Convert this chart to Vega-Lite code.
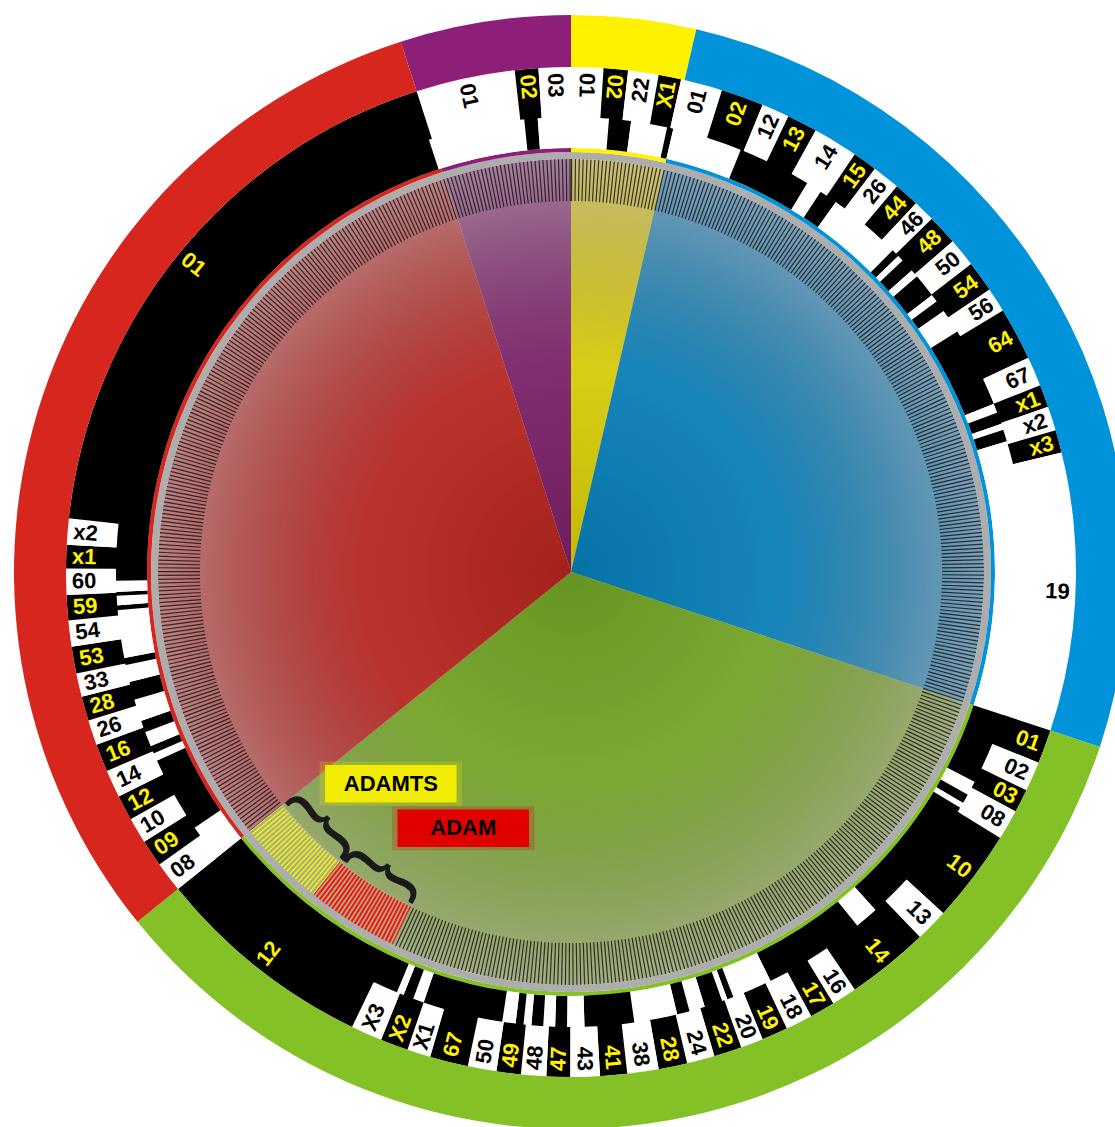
{
  "$schema": "https://vega.github.io/schema/vega-lite/v6.json",
  "width": 1088,
  "height": 1110,
  "autosize": "none",
  "padding": {"left": 27, "top": 17, "right": 0, "bottom": 0},
  "background": "white",
  "config": {"view": {"stroke": null}},
  "datasets": {
    "families": [
      {"fam": "violet", "a0": 342.2, "a1": 360},
      {"fam": "gold", "a0": 0, "a1": 13},
      {"fam": "blue", "a0": 13, "a1": 108.3},
      {"fam": "green", "a0": 108.3, "a1": 231.1},
      {"fam": "red", "a0": 231.1, "a1": 342.2}
    ],
    "full": [{"a0": 0, "a1": 360}],
    "groups": [
      {"kind": "ADAMTS", "t0": 218.6, "t1": 231.1, "at": 220.4},
      {"kind": "ADAM", "t0": 205.6, "t1": 218.6, "at": 202.8}
    ],
    "subfamilies": [
      {"fam": "violet", "sub": "01", "a0": 341.8, "a1": 354.1, "b0": 342.2, "b1": 353.6, "shade": "light"},
      {"fam": "violet", "sub": "02", "a0": 354.1, "a1": 355.8, "b0": 353.6, "b1": 356.3, "shade": "dark"},
      {"fam": "violet", "sub": "03", "a0": 355.8, "a1": 360, "b0": 356.3, "b1": 360, "shade": "light"},
      {"fam": "gold", "sub": "01", "a0": 0, "a1": 4.8, "b0": 0, "b1": 3.7, "shade": "light"},
      {"fam": "gold", "sub": "02", "a0": 4.8, "a1": 7.6, "b0": 3.7, "b1": 6.5, "shade": "dark"},
      {"fam": "gold", "sub": "22", "a0": 7.6, "a1": 12.2, "b0": 6.5, "b1": 10.0, "shade": "light"},
      {"fam": "gold", "sub": "X1", "a0": 12.2, "a1": 13.0, "b0": 10.0, "b1": 12.6, "shade": "dark"},
      {"fam": "blue", "sub": "01", "a0": 13.0, "a1": 21.9, "b0": 12.6, "b1": 17.4, "shade": "light"},
      {"fam": "blue", "sub": "02", "a0": 21.9, "a1": 31.3, "b0": 17.4, "b1": 22.3, "shade": "dark"},
      {"fam": "blue", "sub": "12", "a0": 31.3, "a1": 33.3, "b0": 22.3, "b1": 25.5, "shade": "light"},
      {"fam": "blue", "sub": "13", "a0": 33.3, "a1": 35.6, "b0": 25.5, "b1": 29.0, "shade": "dark"},
      {"fam": "blue", "sub": "14", "a0": 35.6, "a1": 45.0, "b0": 29.0, "b1": 34.2, "shade": "light"},
      {"fam": "blue", "sub": "15", "a0": 45.0, "a1": 46.0, "b0": 34.2, "b1": 37.0, "shade": "dark"},
      {"fam": "blue", "sub": "26", "a0": 46.0, "a1": 46.8, "b0": 37.0, "b1": 40.2, "shade": "light"},
      {"fam": "blue", "sub": "44", "a0": 46.8, "a1": 48.5, "b0": 40.2, "b1": 43.1, "shade": "dark"},
      {"fam": "blue", "sub": "46", "a0": 48.5, "a1": 49.5, "b0": 43.1, "b1": 45.6, "shade": "light"},
      {"fam": "blue", "sub": "48", "a0": 49.5, "a1": 52.5, "b0": 45.6, "b1": 49.1, "shade": "dark"},
      {"fam": "blue", "sub": "50", "a0": 52.5, "a1": 53.5, "b0": 49.1, "b1": 52.4, "shade": "light"},
      {"fam": "blue", "sub": "54", "a0": 53.5, "a1": 55.0, "b0": 52.4, "b1": 56.0, "shade": "dark"},
      {"fam": "blue", "sub": "56", "a0": 55.0, "a1": 58.1, "b0": 56.0, "b1": 58.8, "shade": "light"},
      {"fam": "blue", "sub": "64", "a0": 58.1, "a1": 68.3, "b0": 58.8, "b1": 64.9, "shade": "dark"},
      {"fam": "blue", "sub": "67", "a0": 68.3, "a1": 69.5, "b0": 64.9, "b1": 68.3, "shade": "light"},
      {"fam": "blue", "sub": "x1", "a0": 69.5, "a1": 71.0, "b0": 68.3, "b1": 70.9, "shade": "dark"},
      {"fam": "blue", "sub": "x2", "a0": 71.0, "a1": 71.8, "b0": 70.9, "b1": 73.7, "shade": "light"},
      {"fam": "blue", "sub": "x3", "a0": 71.8, "a1": 73.3, "b0": 73.7, "b1": 76.3, "shade": "dark"},
      {"fam": "blue", "sub": "19", "a0": 73.3, "a1": 108.3, "b0": 76.3, "b1": 108.3, "shade": "light"},
      {"fam": "green", "sub": "01", "a0": 108.3, "a1": 117.5, "b0": 108.3, "b1": 112.2, "shade": "dark"},
      {"fam": "green", "sub": "02", "a0": 117.5, "a1": 119.3, "b0": 112.2, "b1": 115.6, "shade": "light"},
      {"fam": "green", "sub": "03", "a0": 119.3, "a1": 120.5, "b0": 115.6, "b1": 118.3, "shade": "dark"},
      {"fam": "green", "sub": "08", "a0": 120.5, "a1": 121.2, "b0": 118.3, "b1": 121.8, "shade": "light"},
      {"fam": "green", "sub": "10", "a0": 121.2, "a1": 138.0, "b0": 121.8, "b1": 132.5, "shade": "dark"},
      {"fam": "green", "sub": "13", "a0": 138.0, "a1": 141.0, "b0": 132.5, "b1": 136.3, "shade": "light"},
      {"fam": "green", "sub": "14", "a0": 141.0, "a1": 154.0, "b0": 136.3, "b1": 145.8, "shade": "dark"},
      {"fam": "green", "sub": "16", "a0": 154.0, "a1": 159.1, "b0": 145.8, "b1": 148.7, "shade": "light"},
      {"fam": "green", "sub": "17", "a0": 159.1, "a1": 159.9, "b0": 148.7, "b1": 151.6, "shade": "dark"},
      {"fam": "green", "sub": "18", "a0": 159.9, "a1": 160.6, "b0": 151.6, "b1": 154.7, "shade": "light"},
      {"fam": "green", "sub": "19", "a0": 160.6, "a1": 162.9, "b0": 154.7, "b1": 157.7, "shade": "dark"},
      {"fam": "green", "sub": "20", "a0": 162.9, "a1": 164.9, "b0": 157.7, "b1": 160.3, "shade": "light"},
      {"fam": "green", "sub": "22", "a0": 164.9, "a1": 166.5, "b0": 160.3, "b1": 163.5, "shade": "dark"},
      {"fam": "green", "sub": "24", "a0": 166.5, "a1": 172.0, "b0": 163.5, "b1": 166.7, "shade": "light"},
      {"fam": "green", "sub": "28", "a0": 172.0, "a1": 178.3, "b0": 166.7, "b1": 170.0, "shade": "dark"},
      {"fam": "green", "sub": "38", "a0": 178.3, "a1": 180.5, "b0": 170.0, "b1": 173.6, "shade": "light"},
      {"fam": "green", "sub": "41", "a0": 180.5, "a1": 182.0, "b0": 173.6, "b1": 176.7, "shade": "dark"},
      {"fam": "green", "sub": "43", "a0": 182.0, "a1": 183.5, "b0": 176.7, "b1": 180.1, "shade": "light"},
      {"fam": "green", "sub": "47", "a0": 183.5, "a1": 185.0, "b0": 180.1, "b1": 182.8, "shade": "dark"},
      {"fam": "green", "sub": "48", "a0": 185.0, "a1": 186.0, "b0": 182.8, "b1": 185.7, "shade": "light"},
      {"fam": "green", "sub": "49", "a0": 186.0, "a1": 187.0, "b0": 185.7, "b1": 188.5, "shade": "dark"},
      {"fam": "green", "sub": "50", "a0": 187.0, "a1": 188.7, "b0": 188.5, "b1": 191.8, "shade": "light"},
      {"fam": "green", "sub": "67", "a0": 188.7, "a1": 198.9, "b0": 191.8, "b1": 196.2, "shade": "dark"},
      {"fam": "green", "sub": "X1", "a0": 198.9, "a1": 200.3, "b0": 196.2, "b1": 198.9, "shade": "light"},
      {"fam": "green", "sub": "X2", "a0": 200.3, "a1": 201.6, "b0": 198.9, "b1": 202.1, "shade": "dark"},
      {"fam": "green", "sub": "X3", "a0": 201.6, "a1": 202.5, "b0": 202.1, "b1": 205.7, "shade": "light"},
      {"fam": "green", "sub": "12", "a0": 202.5, "a1": 231.1, "b0": 205.7, "b1": 231.1, "shade": "dark"},
      {"fam": "red", "sub": "08", "a0": 231.1, "a1": 235.8, "b0": 231.1, "b1": 234.6, "shade": "light"},
      {"fam": "red", "sub": "09", "a0": 235.8, "a1": 245.5, "b0": 234.6, "b1": 237.7, "shade": "dark"},
      {"fam": "red", "sub": "10", "a0": 245.5, "a1": 246.5, "b0": 237.7, "b1": 240.7, "shade": "light"},
      {"fam": "red", "sub": "12", "a0": 246.5, "a1": 247.5, "b0": 240.7, "b1": 243.6, "shade": "dark"},
      {"fam": "red", "sub": "14", "a0": 247.5, "a1": 249.4, "b0": 243.6, "b1": 246.8, "shade": "light"},
      {"fam": "red", "sub": "16", "a0": 249.4, "a1": 250.9, "b0": 246.8, "b1": 250.0, "shade": "dark"},
      {"fam": "red", "sub": "26", "a0": 250.9, "a1": 253.7, "b0": 250.0, "b1": 252.9, "shade": "light"},
      {"fam": "red", "sub": "28", "a0": 253.7, "a1": 256.0, "b0": 252.9, "b1": 255.7, "shade": "dark"},
      {"fam": "red", "sub": "33", "a0": 256.0, "a1": 258.2, "b0": 255.7, "b1": 258.4, "shade": "light"},
      {"fam": "red", "sub": "53", "a0": 258.2, "a1": 259.1, "b0": 258.4, "b1": 261.5, "shade": "dark"},
      {"fam": "red", "sub": "54", "a0": 259.1, "a1": 265.2, "b0": 261.5, "b1": 264.5, "shade": "light"},
      {"fam": "red", "sub": "59", "a0": 265.2, "a1": 265.8, "b0": 264.5, "b1": 267.4, "shade": "dark"},
      {"fam": "red", "sub": "60", "a0": 265.8, "a1": 267.0, "b0": 267.4, "b1": 270.4, "shade": "light"},
      {"fam": "red", "sub": "x1", "a0": 267.0, "a1": 267.5, "b0": 270.4, "b1": 273.1, "shade": "dark"},
      {"fam": "red", "sub": "x2", "a0": 267.5, "a1": 268.9, "b0": 273.1, "b1": 276.1, "shade": "light"},
      {"fam": "red", "sub": "01", "a0": 268.9, "a1": 341.8, "b0": 276.1, "b1": 342.2, "shade": "dark"}
    ]
  },
  "layer": [
    {
      "description": "central pie of the five families",
      "data": {"name": "families"},
      "mark": {"type": "arc", "innerRadius": 0, "outerRadius": 413},
      "encoding": {
        "theta": {"field": "a0", "type": "quantitative", "stack": null, "scale": {"type": "linear", "domain": [0, 360], "range": [0, 6.283185307179586]}},
        "theta2": {"field": "a1"},
        "color": {"field": "fam", "type": "nominal", "legend": null, "scale": {"domain": ["violet", "gold", "blue", "green", "red"], "range": ["#8E1F78", "#FFF200", "#0093D9", "#84C126", "#D7261E"]}}
      }
    },
    {
      "description": "shading over the pie: darker centre, greyed rim",
      "data": {"name": "full"},
      "mark": {
        "type": "arc", "innerRadius": 0, "outerRadius": 413,
        "fill": {"gradient": "radial", "x1": 0.5, "y1": 0.5, "r1": 0, "x2": 0.5, "y2": 0.5, "r2": 0.5,
          "stops": [
            {"offset": 0, "color": "rgba(20,20,20,0.26)"},
            {"offset": 0.5, "color": "rgba(95,90,92,0.24)"},
            {"offset": 1, "color": "rgba(178,168,172,0.70)"}
          ]}
      },
      "encoding": {
        "theta": {"field": "a0", "type": "quantitative", "stack": null, "scale": {"type": "linear", "domain": [0, 360], "range": [0, 6.283185307179586]}},
        "theta2": {"field": "a1"}
      }
    },
    {
      "description": "one tick per gene around the pie",
      "data": {"name": "full"},
      "mark": {"type": "arc", "innerRadius": 0, "outerRadius": 392, "filled": false, "stroke": "#111111", "strokeOpacity": 0.8, "strokeWidth": 42, "strokeDash": [1.2, 2.5]},
      "encoding": {
        "theta": {"field": "a0", "type": "quantitative", "stack": null, "scale": {"type": "linear", "domain": [0, 360], "range": [0, 6.283185307179586]}},
        "theta2": {"field": "a1"}
      }
    },
    {
      "data": {"name": "groups"},
      "mark": {"type": "arc", "innerRadius": 370, "outerRadius": 414, "fill": "#A3B08A"},
      "encoding": {
        "theta": {"field": "t0", "type": "quantitative", "stack": null, "scale": {"type": "linear", "domain": [0, 360], "range": [0, 6.283185307179586]}},
        "theta2": {"field": "t1"}
      }
    },
    {
      "description": "ADAMTS and ADAM genes ticked in their own colour",
      "data": {"name": "groups"},
      "mark": {"type": "arc", "innerRadius": 392, "outerRadius": 392, "filled": false, "strokeWidth": 42, "strokeDash": [1.1, 2.6]},
      "encoding": {
        "theta": {"field": "t0", "type": "quantitative", "stack": null, "scale": {"type": "linear", "domain": [0, 360], "range": [0, 6.283185307179586]}},
        "theta2": {"field": "t1"},
        "color": {"field": "kind", "type": "nominal", "legend": null, "scale": {"domain": ["ADAMTS", "ADAM"], "range": ["#FFF200", "#FF1010"]}}
      }
    },
    {
      "data": {"name": "full"},
      "mark": {"type": "arc", "innerRadius": 413, "outerRadius": 420, "fill": "#ADADAD"},
      "encoding": {
        "theta": {"field": "a0", "type": "quantitative", "stack": null, "scale": {"type": "linear", "domain": [0, 360], "range": [0, 6.283185307179586]}},
        "theta2": {"field": "a1"}
      }
    },
    {
      "data": {"name": "families"},
      "mark": {"type": "arc", "innerRadius": 420, "outerRadius": 424},
      "encoding": {
        "theta": {"field": "a0", "type": "quantitative", "stack": null, "scale": {"type": "linear", "domain": [0, 360], "range": [0, 6.283185307179586]}},
        "theta2": {"field": "a1"},
        "color": {"field": "fam", "type": "nominal", "legend": null, "scale": {"domain": ["violet", "gold", "blue", "green", "red"], "range": ["#8E1F78", "#FFF200", "#0093D9", "#84C126", "#D7261E"]}}
      }
    },
    {
      "description": "subfamily ring, inner part at the true gene positions",
      "data": {"name": "subfamilies"},
      "mark": {"type": "arc", "innerRadius": 424, "outerRadius": 456},
      "encoding": {
        "theta": {"field": "a0", "type": "quantitative", "stack": null, "scale": {"type": "linear", "domain": [0, 360], "range": [0, 6.283185307179586]}},
        "theta2": {"field": "a1"},
        "color": {"field": "shade", "type": "nominal", "legend": null, "scale": {"domain": ["dark", "light"], "range": ["#000000", "#FFFFFF"]}}
      }
    },
    {
      "description": "subfamily ring, outer part spread out for the labels",
      "data": {"name": "subfamilies"},
      "mark": {"type": "arc", "innerRadius": 455, "outerRadius": 505},
      "encoding": {
        "theta": {"field": "b0", "type": "quantitative", "stack": null, "scale": {"type": "linear", "domain": [0, 360], "range": [0, 6.283185307179586]}},
        "theta2": {"field": "b1"},
        "color": {"field": "shade", "type": "nominal", "legend": null, "scale": {"domain": ["dark", "light"], "range": ["#000000", "#FFFFFF"]}}
      }
    },
    {
      "description": "outer family ring",
      "data": {"name": "families"},
      "mark": {"type": "arc", "innerRadius": 505, "outerRadius": 557},
      "encoding": {
        "theta": {"field": "a0", "type": "quantitative", "stack": null, "scale": {"type": "linear", "domain": [0, 360], "range": [0, 6.283185307179586]}},
        "theta2": {"field": "a1"},
        "color": {"field": "fam", "type": "nominal", "legend": null, "scale": {"domain": ["violet", "gold", "blue", "green", "red"], "range": ["#8E1F78", "#FFF200", "#0093D9", "#84C126", "#D7261E"]}}
      }
    },
    {
      "description": "subfamily labels, radial, flipped on the left half",
      "data": {"name": "subfamilies"},
      "transform": [
        {"calculate": "(datum.b0 + datum.b1) / 2", "as": "mid"},
        {"calculate": "(datum.mid < 8 || datum.mid >= 180) ? datum.mid - 270 : datum.mid - 90", "as": "rot"}
      ],
      "mark": {"type": "text", "radius": 487, "align": "center", "baseline": "middle", "font": "Liberation Sans", "fontWeight": "bold", "fontSize": 22},
      "encoding": {
        "theta": {"field": "mid", "type": "quantitative", "scale": {"type": "linear", "domain": [0, 360], "range": [0, 6.283185307179586]}},
        "text": {"field": "sub"},
        "angle": {"field": "rot", "type": "quantitative", "scale": null},
        "color": {"field": "shade", "type": "nominal", "legend": null, "scale": {"domain": ["dark", "light"], "range": ["#FFF200", "#000000"]}}
      }
    },
    {
      "description": "curly braces grouping the ADAMTS and ADAM ticks",
      "data": {"name": "groups"},
      "transform": [
        {"calculate": "(datum.t0 + datum.t1) / 2", "as": "mid"},
        {"calculate": "datum.mid - 90", "as": "rot"}
      ],
      "mark": {"type": "text", "text": "{", "radius": 355, "align": "center", "baseline": "middle", "font": "Lato", "fontWeight": 400, "fontSize": 90, "fill": "#1A1A1A"},
      "encoding": {
        "theta": {"field": "mid", "type": "quantitative", "scale": {"type": "linear", "domain": [0, 360], "range": [0, 6.283185307179586]}},
        "angle": {"field": "rot", "type": "quantitative", "scale": null}
      }
    },
    {
      "description": "label boxes, soft halo then solid box, placed at the label angle",
      "data": {"name": "groups"},
      "transform": [
        {"calculate": "278 * sin(datum.at * PI / 180)", "as": "bx"},
        {"calculate": "278 * cos(datum.at * PI / 180)", "as": "by"}
      ],
      "layer": [
        {
          "mark": {"type": "point", "filled": true, "opacity": 0.22, "shape": "M-1,-0.31L1,-0.31L1,0.31L-1,0.31Z", "size": 20300},
          "encoding": {
            "x": {"field": "bx", "type": "quantitative", "axis": null, "scale": {"domain": [-544, 544], "nice": false, "zero": false}},
            "y": {"field": "by", "type": "quantitative", "axis": null, "scale": {"domain": [-555, 555], "nice": false, "zero": false}},
            "color": {"field": "kind", "type": "nominal", "legend": null, "scale": {"domain": ["ADAMTS", "ADAM"], "range": ["#F2EC00", "#E00000"]}}
          }
        },
        {
          "mark": {"type": "point", "filled": true, "opacity": 1, "shape": "M-1,-0.2857L1,-0.2857L1,0.2857L-1,0.2857Z", "size": 17300},
          "encoding": {
            "x": {"field": "bx", "type": "quantitative", "axis": null, "scale": {"domain": [-544, 544], "nice": false, "zero": false}},
            "y": {"field": "by", "type": "quantitative", "axis": null, "scale": {"domain": [-555, 555], "nice": false, "zero": false}},
            "color": {"field": "kind", "type": "nominal", "legend": null, "scale": {"domain": ["ADAMTS", "ADAM"], "range": ["#F2EC00", "#E00000"]}}
          }
        }
      ]
    },
    {
      "data": {"name": "groups"},
      "mark": {"type": "text", "radius": 278, "align": "center", "baseline": "middle", "font": "Liberation Sans", "fontWeight": "bold", "fontSize": 22, "fill": "#000000"},
      "encoding": {
        "theta": {"field": "at", "type": "quantitative", "scale": {"type": "linear", "domain": [0, 360], "range": [0, 6.283185307179586]}},
        "text": {"field": "kind"}
      }
    }
  ],
  "resolve": {"scale": {"color": "independent"}}
}
